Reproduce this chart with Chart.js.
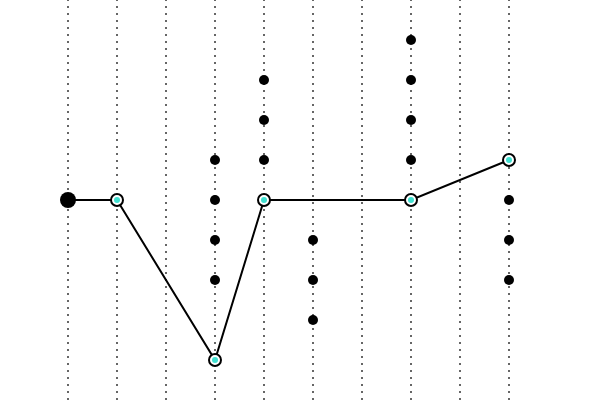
<!DOCTYPE html>
<html>
<head>
<meta charset="utf-8">
<script src="https://cdn.jsdelivr.net/npm/chart.js@4"></script>
<style>
html,body{margin:0;padding:0;background:#fff;}
#wrap{width:600px;height:400px;}
</style>
</head>
<body>
<div id="wrap"><canvas id="c" width="600" height="400"></canvas></div>
<script>
const columns = [0,1,2,3,4,5,6,7,8,9];
const lineX = [0,1,3,4,7,9];
const lineY = [5,5,1,5,5,6];
const dotX = [3,3,3,3, 4,4,4, 5,5,5, 7,7,7,7, 9,9,9];
const dotY = [6,5,4,3, 8,7,6, 4,3,2, 9,8,7,6, 5,4,3];

const linePts = lineX.map((x,i)=>({x:x,y:lineY[i]}));
const dotPts = dotX.map((x,i)=>({x:x,y:dotY[i]}));
const tealPts = linePts.slice(1);

new Chart(document.getElementById('c'), {
  type: 'scatter',
  data: {
    datasets: [
      {
        data: tealPts,
        showLine: false,
        pointRadius: 3,
        pointBorderWidth: 0,
        pointBackgroundColor: '#40E0D0',
        pointBorderColor: '#40E0D0',
        clip: false
      },
      {
        data: linePts,
        showLine: true,
        borderColor: '#000',
        borderWidth: 2,
        tension: 0,
        pointRadius: linePts.map((p,i)=> i===0 ? 8 : 6),
        pointBorderWidth: linePts.map((p,i)=> i===0 ? 0 : 2),
        pointBackgroundColor: linePts.map((p,i)=> i===0 ? '#000' : '#fff'),
        pointBorderColor: '#000',
        clip: false
      },
      {
        data: dotPts,
        showLine: false,
        pointRadius: 5,
        pointBorderWidth: 0,
        pointBackgroundColor: '#000',
        pointBorderColor: '#000',
        clip: false
      }
    ]
  },
  options: {
    responsive: false,
    animation: false,
    layout: { autoPadding: false, padding: { left: 68, right: 91, top: 0, bottom: 0 } },
    plugins: { legend: { display: false }, tooltip: { enabled: false } },
    scales: {
      x: {
        type: 'linear',
        min: columns[0],
        max: columns[columns.length-1],
        afterBuildTicks: (s) => { s.ticks = columns.map(v=>({value:v})); },
        ticks: { display: false },
        border: { display: false, dash: [2,5], dashOffset: 1 },
        grid: { color: '#666', lineWidth: 2, drawTicks: false }
      },
      y: {
        type: 'linear',
        min: 0,
        max: 10,
        display: false
      }
    }
  }
});
</script>
</body>
</html>
